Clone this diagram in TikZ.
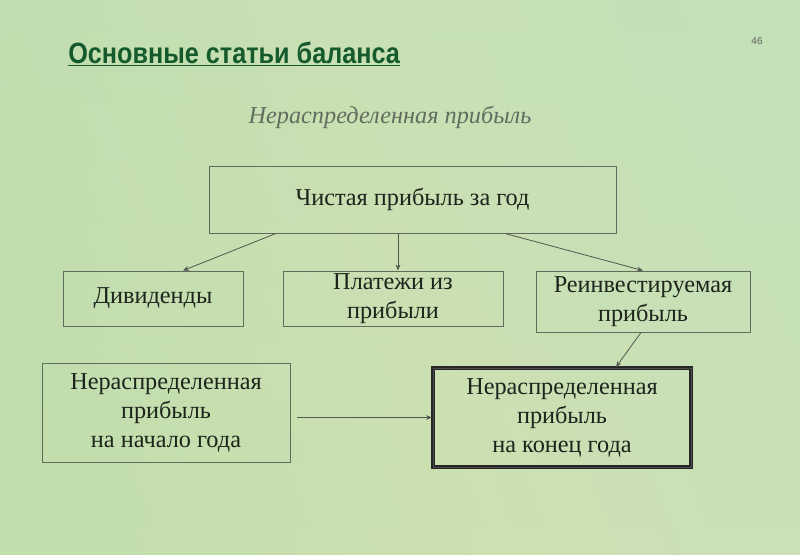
\documentclass[tikz,border=0pt]{standalone}
\usepackage{fontspec}
\setmainfont{Liberation Serif}
\newfontfamily\titlefont{Liberation Sans}
\usetikzlibrary{arrows.meta,calc}
\definecolor{bgA}{RGB}{188,220,170}
\definecolor{bgB}{RGB}{200,226,192}
\definecolor{bgC}{RGB}{208,226,180}
\definecolor{boxline}{RGB}{95,108,90}
\definecolor{txt}{RGB}{28,36,28}
\definecolor{titlegreen}{RGB}{20,90,45}
\definecolor{subgray}{RGB}{95,110,95}
\definecolor{arrowc}{RGB}{80,88,78}
\tikzset{
  box/.style={draw=boxline, line width=0.7pt, align=center, text=txt,
    font=\fontsize{18.2}{21.8}\selectfont, inner sep=0pt},
  thickbox/.style={box, draw=black!85, line width=1.4pt, double=gray!60!black, double distance=0.6pt},
  conn/.style={draw=arrowc, line width=0.6pt, -{Stealth[length=4.5pt,width=3.5pt]}}
}
\begin{document}
\begin{tikzpicture}[x=0.75pt,y=-0.75pt]
\useasboundingbox (0,0) rectangle (800,554);
\shade[left color=bgA, right color=bgB, middle color=bgC, shading angle=110] (0,0) rectangle (800,554);
\shade[top color=bgB!40!bgA, bottom color=bgC!70!bgA, opacity=0.5] (0,0) rectangle (800,554);

\node[anchor=west, text=titlegreen, font=\titlefont\bfseries\fontsize{22}{26}\selectfont, inner sep=0pt] (title) at (68,54)
  {\scalebox{0.86}[1]{\underline{Основные статьи баланса}}};
\node[text=subgray, font=\fontsize{18.2}{21}\selectfont\itshape] (sub) at (390,117) {Нераспределенная прибыль};
\node[text=gray!75!black, font=\titlefont\fontsize{7.5}{9}\selectfont] (num) at (757,41) {46};

\node[box, minimum width=305.25pt, minimum height=50.25pt] (top) at (412.5,199.5) {\raisebox{-2pt}{Чистая прибыль за год}};
\node[box, minimum width=135pt, minimum height=41.25pt] (div) at (153,298.5) {\raisebox{-2pt}{Дивиденды}};
\node[box, minimum width=165pt, minimum height=41.25pt] (plat) at (393,298.5) {Платежи из\\прибыли};
\node[box, minimum width=160.5pt, minimum height=45.75pt] (reinv) at (643,301.5) {Реинвестируемая\\прибыль};
\node[box, minimum width=186pt, minimum height=74.25pt] (lb) at (166,412.5) {Нераспределенная\\прибыль\\на начало года};
\node[thickbox, minimum width=193.5pt, minimum height=74.25pt] (rb) at (562,417.5) {Нераспределенная\\прибыль\\на конец года};

\draw[conn] ($(top.south)+(-136.5,0)$) -- ($(div.north)+(30,0)$);
\draw[conn] ($(top.south)+(-14.5,0)$) -- ($(plat.north)+(5,0)$);
\draw[conn] ($(top.south)+(92.5,0)$) -- (reinv.north);
\draw[conn] ($(reinv.south)+(-2,0)$) -- ($(rb.north)+(54,0)$);
\draw[conn] ($(lb.east)+(7,5)$) -- (rb.west);
\end{tikzpicture}
\end{document}
